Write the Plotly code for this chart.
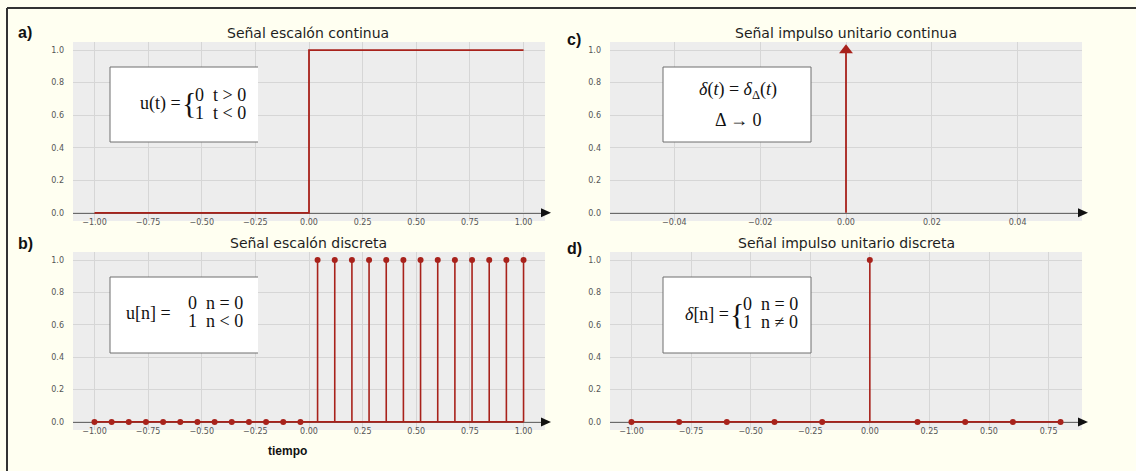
import plotly.graph_objects as go

# ---- data -------------------------------------------------------------
# a) continuous unit step
t_a = [-1.0, 0.0, 0.0, 1.0]
u_a = [0, 0, 1, 1]

# b) discrete unit step
n_b = [-1.0, -0.92, -0.84, -0.76, -0.68, -0.6, -0.52, -0.44, -0.36, -0.28,
       -0.2, -0.12, -0.04, 0.04, 0.12, 0.2, 0.28, 0.36, 0.44, 0.52, 0.6,
       0.68, 0.76, 0.84, 0.92, 1.0]
u_b = [0, 0, 0, 0, 0, 0, 0, 0, 0, 0, 0, 0, 0,
       1, 1, 1, 1, 1, 1, 1, 1, 1, 1, 1, 1, 1]

# c) continuous unit impulse
t_c = [0.0, 0.0]
d_c = [0, 1]

# d) discrete unit impulse
n_d = [-1.0, -0.8, -0.6, -0.4, -0.2, 0.0, 0.2, 0.4, 0.6, 0.8]
d_d = [0, 0, 0, 0, 0, 1, 0, 0, 0, 0]

# tick labels
ticks_step = [-1.0, -0.75, -0.5, -0.25, 0.0, 0.25, 0.5, 0.75, 1.0]
ticks_imp_c = [-0.04, -0.02, 0.0, 0.02, 0.04]
ticks_imp_d = [-1.0, -0.75, -0.5, -0.25, 0.0, 0.25, 0.5, 0.75]
ticks_y = [0.0, 0.2, 0.4, 0.6, 0.8, 1.0]

titles = ["Señal escalón continua", "Señal escalón discreta",
          "Señal impulso unitario continua", "Señal impulso unitario discreta"]
panel_tags = ["a)", "b)", "c)", "d)"]

# ---- styling ----------------------------------------------------------
W, H = 1136, 471
RED = "#A8221B"
PLOT_BG = "#EDEDED"
GRID = "#D6D6D6"
PAPER_BG = "#FFFFF1"
YR = [-0.05, 1.05]


def px(x):
    return x / W


def py(y):
    return 1 - y / H


# plot areas in pixel coordinates: (left, right, top, bottom)
areas = {
    "a": (73, 545, 42, 221),
    "b": (73, 545, 252, 430),
    "c": (610, 1082, 42, 221),
    "d": (610, 1082, 252, 430),
}
xranges = {"a": [-1.1, 1.1], "b": [-1.1, 1.1],
           "c": [-0.055, 0.055], "d": [-1.09, 0.89]}
xticks = {"a": ticks_step, "b": ticks_step,
          "c": ticks_imp_c, "d": ticks_imp_d}
axis_ids = {"a": "", "b": "2", "c": "3", "d": "4"}

fig = go.Figure()

# a) step line
fig.add_trace(go.Scatter(x=t_a, y=u_a, mode="lines",
                         line=dict(color=RED, width=1.8),
                         xaxis="x", yaxis="y", hoverinfo="skip"))


def stems(xs, ys, xa, ya):
    sx, sy = [], []
    for xv, yv in zip(xs, ys):
        sx += [xv, xv, None]
        sy += [0, yv, None]
    fig.add_trace(go.Scatter(x=[min(xs), max(xs)], y=[0, 0], mode="lines",
                             line=dict(color=RED, width=1.8),
                             xaxis=xa, yaxis=ya, hoverinfo="skip"))
    fig.add_trace(go.Scatter(x=sx, y=sy, mode="lines",
                             line=dict(color=RED, width=1.6),
                             xaxis=xa, yaxis=ya, hoverinfo="skip"))
    fig.add_trace(go.Scatter(x=xs, y=ys, mode="markers",
                             marker=dict(color=RED, size=6),
                             xaxis=xa, yaxis=ya, hoverinfo="skip"))


# b) discrete step
stems(n_b, u_b, "x2", "y2")

# c) impulse with arrow head
fig.add_trace(go.Scatter(x=t_c, y=d_c, mode="lines",
                         line=dict(color=RED, width=1.8),
                         xaxis="x3", yaxis="y3", hoverinfo="skip"))
fig.add_trace(go.Scatter(x=t_c[-1:], y=d_c[-1:], mode="markers",
                         marker=dict(color=RED, size=12, symbol="triangle-up"),
                         xaxis="x3", yaxis="y3", hoverinfo="skip"))

# d) discrete impulse
stems(n_d, d_d, "x4", "y4")

shapes = []
annotations = []
layout_axes = {}
TICKFONT = dict(family="DejaVu Sans", size=8, color="#555")

for key, (l, r, t, b) in areas.items():
    sid = axis_ids[key]
    xdom = [px(l), px(r)]
    ydom = [py(b), py(t)]
    zero_pos = ydom[0] + (0 - YR[0]) / (YR[1] - YR[0]) * (ydom[1] - ydom[0])
    layout_axes["xaxis" + sid] = dict(
        domain=xdom, range=xranges[key], tickvals=xticks[key],
        tickformat=".2f", showgrid=True, gridcolor=GRID, gridwidth=1,
        zeroline=False, anchor="free", position=zero_pos,
        showline=True, linecolor="#6A6A6A", linewidth=1.2,
        ticks="", ticklabelstandoff=1, tickfont=TICKFONT,
        layer="below traces", fixedrange=True,
    )
    layout_axes["yaxis" + sid] = dict(
        domain=ydom, range=YR, tickvals=ticks_y, tickformat=".1f",
        showgrid=True, gridcolor=GRID, gridwidth=1, zeroline=False,
        anchor="x" + sid, showline=False, ticks="", ticklabelstandoff=8,
        tickfont=TICKFONT, fixedrange=True,
    )
    # axis arrow head
    y0 = (1 - zero_pos) * H
    path = "M {} {} L {} {} L {} {} Z".format(
        px(r - 4), py(y0 - 4.5), px(r + 6), py(y0), px(r - 4), py(y0 + 4.5))
    shapes.append(dict(type="path", path=path, xref="paper", yref="paper",
                       fillcolor="#111", line=dict(width=0)))


def note(text, x, y, font, xanchor="center"):
    annotations.append(dict(text=text, x=px(x), y=py(y), xref="paper",
                            yref="paper", showarrow=False, xanchor=xanchor,
                            yanchor="middle", font=font))


# titles and panel tags
TITLE = dict(family="DejaVu Sans", size=14, color="#1E1E1E")
title_pos = [(308, 33), (308, 243), (846, 33), (846, 243)]
for txt, (x, y) in zip(titles, title_pos):
    note(txt, x, y, TITLE)

TAG = dict(family="Liberation Sans", size=16, color="#111")
tag_pos = [(25, 33), (25, 243), (574, 40), (574, 248)]
for txt, (x, y) in zip(panel_tags, tag_pos):
    note("<b>" + txt + "</b>", x, y, TAG)
note("<b>tiempo</b>", 287, 451,
     dict(family="Liberation Sans", size=12, color="#111"))

# formula boxes (left, right, top, bottom, full border)
boxes = [(110, 258, 67, 142, False), (110, 258, 277, 353, False),
         (663, 811, 67, 142, True), (663, 811, 277, 353, True)]
for l, r, t, b, full in boxes:
    shapes.append(dict(type="rect", xref="paper", yref="paper",
                       x0=px(l), x1=px(r), y0=py(b), y1=py(t),
                       fillcolor="white",
                       line=dict(color="#6E6E6E", width=1 if full else 0)))
    if not full:
        for seg in [(l, t, r, t), (l, t, l, b), (l, b, r, b)]:
            shapes.append(dict(type="line", xref="paper", yref="paper",
                               x0=px(seg[0]), y0=py(seg[1]),
                               x1=px(seg[2]), y1=py(seg[3]),
                               line=dict(color="#6E6E6E", width=1)))

MATH = dict(family="Liberation Serif", size=18, color="#111")
BRACE = dict(family="Liberation Serif", size=30, color="#111")

# u(t)
note("u(t) =", 183, 104, MATH, "right")
note("{", 189, 103, BRACE)
note("0  t &gt; 0", 193, 95, MATH, "left")
note("1  t &lt; 0", 193, 113, MATH, "left")
# u[n]
note("u[n] =", 173, 313, MATH, "right")
note("0  n = 0", 186, 303, MATH, "left")
note("1  n &lt; 0", 186, 321, MATH, "left")
# delta(t)
note("<i>δ</i>(<i>t</i>) = <i>δ</i><sub>Δ</sub>(<i>t</i>)", 738, 91, MATH)
note("Δ → 0", 738, 120, MATH)
# delta[n]
note("<i>δ</i>[n] =", 731, 314, MATH, "right")
note("{", 737, 313, BRACE)
note("0  n = 0", 741, 304, MATH, "left")
note("1  n ≠ 0", 741, 322, MATH, "left")

# outer frame (top and left edges)
shapes.append(dict(type="line", xref="paper", yref="paper", x0=px(7),
                   y0=py(8), x1=1, y1=py(8),
                   line=dict(color="#333", width=2)))
shapes.append(dict(type="line", xref="paper", yref="paper", x0=px(7),
                   y0=py(8), x1=px(7), y1=0,
                   line=dict(color="#333", width=2)))

fig.update_layout(
    width=W, height=H, margin=dict(l=0, r=0, t=0, b=0),
    paper_bgcolor=PAPER_BG, plot_bgcolor=PLOT_BG, showlegend=False,
    shapes=shapes, annotations=annotations, **layout_axes,
)

fig.write_html("out.html")
